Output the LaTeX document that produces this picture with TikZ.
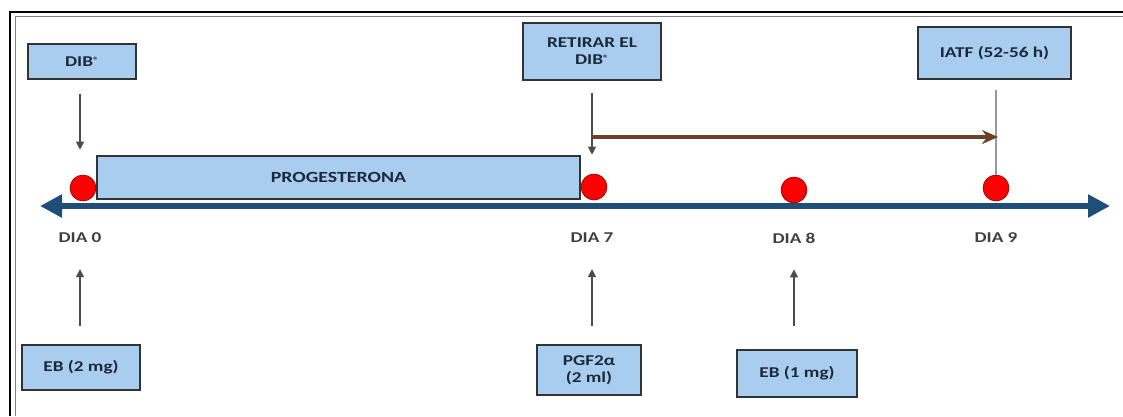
\documentclass[tikz,border=0pt]{standalone}
\usepackage{fontspec}
\setmainfont{Carlito}[FakeStretch=1.28]
\usetikzlibrary{arrows.meta,positioning}
\definecolor{boxblue}{HTML}{A9CDEE}
\definecolor{boxtext}{HTML}{1B2A3A}
\definecolor{axisblue}{HTML}{1F4E79}
\definecolor{rodbrown}{HTML}{6B4226}
\newcommand{\regmark}{\raisebox{0.45ex}{\fontsize{9}{9}\selectfont ®}}
\tikzstyle{box}=[draw=black!80,line width=1.6pt,fill=boxblue,text=boxtext,align=center,inner sep=0pt,font=\bfseries\fontsize{15}{17}\selectfont]
\tikzstyle{day}=[inner sep=0pt,text=black!75,font=\bfseries\fontsize{15}{17}\selectfont]
\tikzstyle{dot}=[circle,fill=red,draw=red!50!black,line width=0.6pt,minimum size=26pt,inner sep=0pt]
\tikzstyle{arr}=[black!70,line width=1.3pt,-{Triangle[length=8pt,width=8pt]}]

\begin{document}
\begin{tikzpicture}[x=1pt,y=-1pt]
\useasboundingbox (0,0) rectangle (1123,416);

% frame
\draw[line width=2.6pt] (10,416) -- (10,12) -- (1123,12);
\draw[gray,line width=1pt] (15,416) -- (15,16.5) -- (1123,16.5);

% time axis
\coordinate (left) at (40,206);
\coordinate (right) at (1110,206);
\draw[axisblue,line width=6pt,{Triangle[length=22pt,width=22pt]}-{Triangle[length=22pt,width=22pt]}] (left) -- (right);

\node (prog) at (338.5,177.5) [box,minimum width=483pt,minimum height=43pt,font=\bfseries\fontsize{15.5}{18}\selectfont] {PROGESTERONA};

\node (d0) at (83,188) [dot] {};
\node (d7) at (594,187) [dot] {};
\node (d8) at (794,190) [dot] {};
\node (d9) at (996,188) [dot] {};

\node (day0) at (80,238) [day] {DIA 0};
\node (day7) at (592,238) [day] {DIA 7};
\node (day8) at (794,238) [day] {DIA 8};
\node (day9) at (996,238) [day] {DIA 9};

% boxes above
\node (dib) at (82,61.5) [box,minimum width=108pt,minimum height=35pt] {DIB\regmark};
\node (ret) at (592,51.5) [box,minimum width=138pt,minimum height=57pt] {RETIRAR EL\\DIB\regmark};
\node (iatf) at (994.5,53) [box,minimum width=153pt,minimum height=52pt] {IATF (52-56 h)};

% boxes below
\node (eb2) at (81,367.5) [box,minimum width=118pt,minimum height=45pt] {EB (2 mg)};
\node (pgf) at (589,370) [box,minimum width=104pt,minimum height=50pt] {PGF2α\\(2 ml)};
\node (eb1) at (797,373.5) [box,minimum width=120pt,minimum height=47pt] {EB (1 mg)};

\draw[arr,shorten <=14pt,shorten >=25pt] (dib.south -| day0) -- (day0 |- d0.north);
\draw[arr,shorten <=12pt,shorten >=19pt] (ret.south) -- (ret.south |- d7.north);
\draw[black!40,line width=1.4pt,shorten <=10pt] (iatf.south -| d9) -- (d9.north);

\coordinate (wait0) at (592,137);
\coordinate (wait1) at (998,137);
\draw[rodbrown,line width=3.5pt,-{Stealth[length=16pt,width=14pt]}] (wait0) -- (wait1);

\draw[arr,shorten <=18pt,shorten >=26pt] (eb2.north -| day0) -- (day0.south);
\draw[arr,shorten <=18pt,shorten >=26pt] (pgf.north -| day7) -- (day7.south);
\draw[arr,shorten <=23pt,shorten >=26pt] (eb1.north -| day8) -- (day8.south);
\end{tikzpicture}
\end{document}
